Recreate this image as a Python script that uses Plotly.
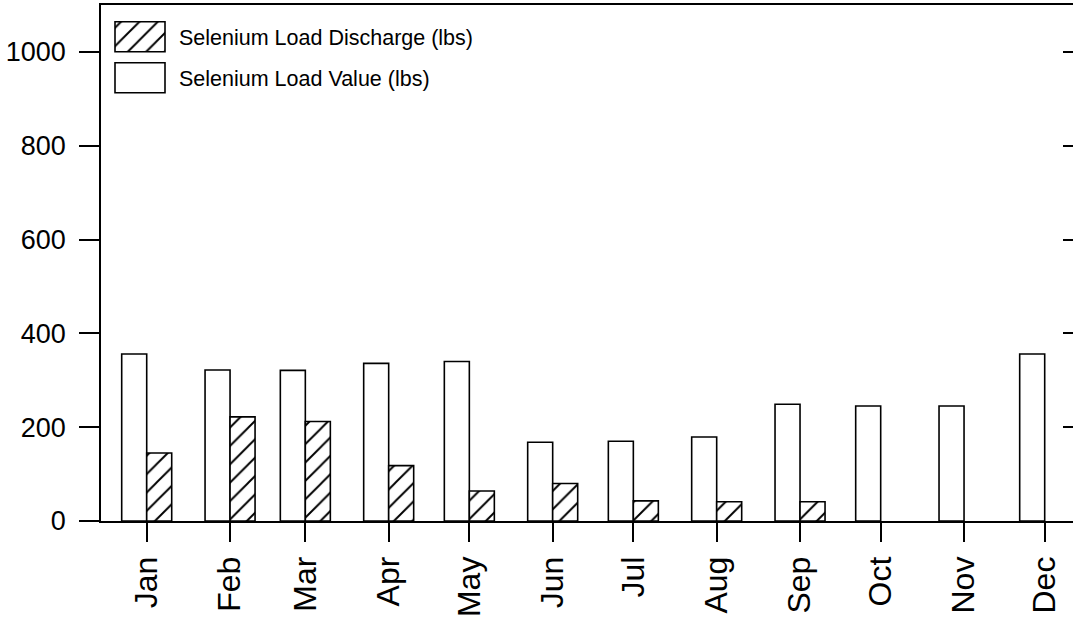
import plotly.graph_objects as go

# ---- data ----
months = ["Jan", "Feb", "Mar", "Apr", "May", "Jun", "Jul", "Aug", "Sep", "Oct", "Nov", "Dec"]
sample_dates = ["2005-01-15", "2005-02-15", "2005-03-15", "2005-04-15", "2005-05-15", "2005-06-15",
                "2005-07-15", "2005-08-15", "2005-09-15", "2005-10-15", "2005-11-15", "2005-12-15"]
load_value = [356, 322, 321, 336, 340, 168, 170, 179, 249, 245, 245, 356]
load_discharge = [145, 222, 212, 118, 64, 80, 43, 41, 41, None, None, None]
y_ticks = [0, 200, 400, 600, 800, 1000]
legend_names = ["Selenium Load Discharge (lbs)", "Selenium Load Value (lbs)"]

# ---- style ----
FONT = "Liberation Sans, Arial, Helvetica, sans-serif"
DAY_MS = 86400000
BAR_W = 9.3 * DAY_MS
LINE_W = 1.6
HATCH = dict(shape="/", fgcolor="black", bgcolor="white", fgopacity=1,
             size=13, solidity=0.15)

fig = go.Figure()

fig.add_trace(go.Bar(
    x=sample_dates, y=load_value, width=[BAR_W] * len(sample_dates), offset=-BAR_W,
    marker=dict(color="white", line=dict(color="black", width=LINE_W)),
    name=legend_names[1], showlegend=False,
))
fig.add_trace(go.Bar(
    x=sample_dates, y=load_discharge, width=[BAR_W] * len(sample_dates), offset=0,
    marker=dict(color="white", line=dict(color="black", width=LINE_W), pattern=HATCH),
    name=legend_names[0], showlegend=False,
))

# custom legend (overlay axes in pixel-like units of the plot area)
fig.add_trace(go.Bar(
    x=[39], y=[30], base=[16.7], width=[50], xaxis="x2", yaxis="y2",
    marker=dict(color="white", line=dict(color="black", width=LINE_W), pattern=HATCH),
    showlegend=False, hoverinfo="skip",
))
fig.add_trace(go.Bar(
    x=[39], y=[30], base=[57.7], width=[50], xaxis="x2", yaxis="y2",
    marker=dict(color="white", line=dict(color="black", width=LINE_W)),
    showlegend=False, hoverinfo="skip",
))
for name, yc in zip(legend_names, [32.5, 73.5]):
    fig.add_annotation(x=76, y=yc, xref="x2", yref="y2", text=name, showarrow=False,
                       xanchor="left", yanchor="middle",
                       font=dict(family=FONT, size=21.5, color="black"))

# right-side inward ticks
fig.add_trace(go.Scatter(x=[None], y=[None], yaxis="y3", showlegend=False, hoverinfo="skip"))

fig.update_layout(
    width=1073, height=622,
    margin=dict(l=101, r=0, t=5, b=101, pad=0, autoexpand=False),
    paper_bgcolor="white", plot_bgcolor="white",
    barmode="overlay",
    showlegend=False,
    font=dict(family=FONT, color="black"),
    xaxis=dict(
        type="date", range=["2004-12-29", "2005-12-25 12:40"],
        tickvals=sample_dates, ticktext=months, tickangle=-90,
        ticks="outside", ticklen=19, tickwidth=LINE_W, tickcolor="black",
        tickfont=dict(family=FONT, size=32, color="black"),
        showline=True, linecolor="black", linewidth=LINE_W, mirror=True,
        showgrid=False, zeroline=False, ticklabelstandoff=2, automargin=False,
    ),
    yaxis=dict(
        range=[0, 1100], tickvals=y_ticks,
        ticks="outside", ticklen=20, tickwidth=LINE_W, tickcolor="black",
        tickfont=dict(family=FONT, size=27, color="black"),
        showline=True, linecolor="black", linewidth=LINE_W, mirror=False,
        showgrid=False, zeroline=False, ticklabelstandoff=8, automargin=False,
    ),
    yaxis3=dict(
        overlaying="y", side="right", range=[0, 1100], tickvals=y_ticks,
        ticks="inside", ticklen=10, tickwidth=LINE_W, tickcolor="black",
        showticklabels=False, showline=False, showgrid=False, zeroline=False,
        automargin=False,
    ),
    xaxis2=dict(overlaying="x", range=[0, 972], visible=False, fixedrange=True),
    yaxis2=dict(overlaying="y", range=[515.7, 0], visible=False, fixedrange=True),
)

fig.write_html(
    "out.html",
    config={"displayModeBar": False},
    post_script="document.body.style.margin='0';document.body.style.overflow='hidden';",
)
